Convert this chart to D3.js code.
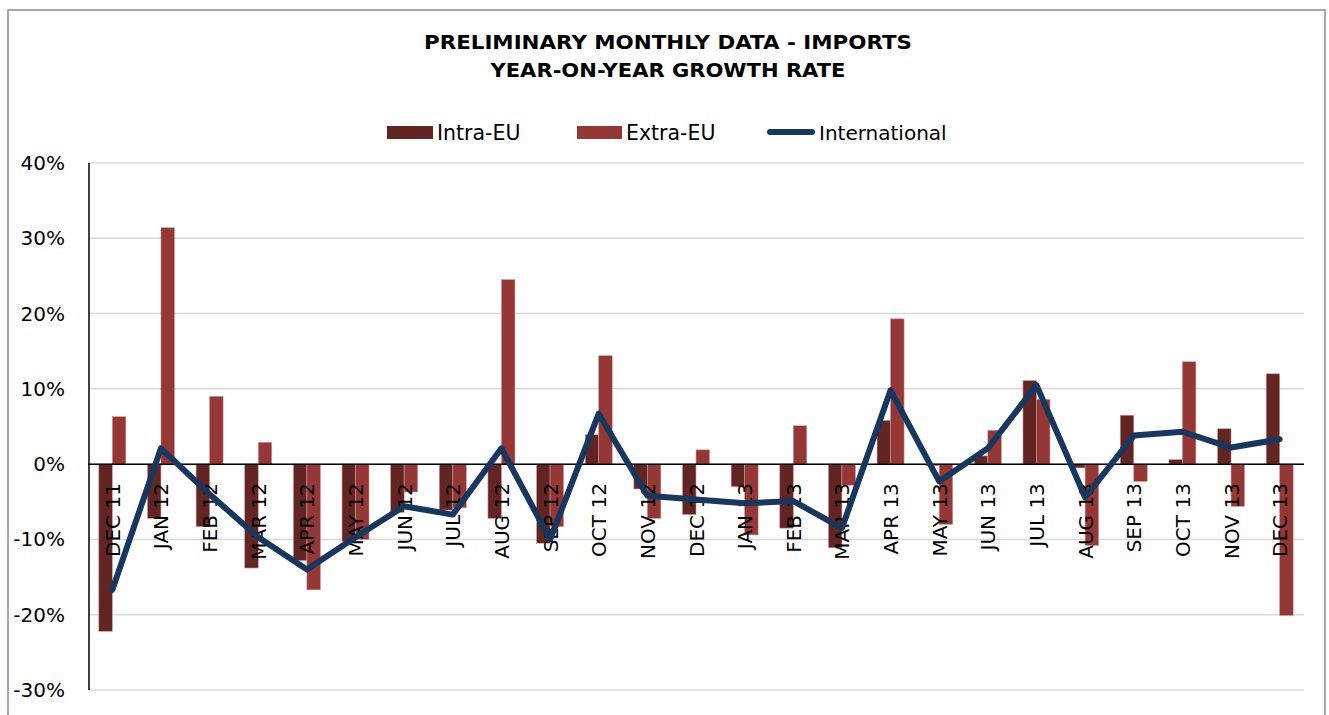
<!DOCTYPE html>
<html>
<head>
<meta charset="utf-8">
<script src="https://cdn.jsdelivr.net/npm/d3@7"></script>
<style>
  body { margin: 0; background: #fff; }
  svg { display: block; }
  text { font-family: "DejaVu Sans", sans-serif; fill: #000; }
</style>
</head>
<body>
<svg id="chart" width="1329" height="715"></svg>
<script>
// months on the x axis
var months = ["DEC 11", "JAN 12", "FEB 12", "MAR 12", "APR 12", "MAY 12", "JUN 12", "JUL 12", "AUG 12",
              "SEP 12", "OCT 12", "NOV 12", "DEC 12", "JAN 13", "FEB 13", "MAR 13", "APR 13",
              "MAY 13", "JUN 13", "JUL 13", "AUG 13", "SEP 13", "OCT 13", "NOV 13", "DEC 13"];
// growth rates in %
var intraEU = [-22.2, -7.2, -8.3, -13.8, -12.8, -10.3, -6.4, -6.1, -7.2,
               -10.5, 3.9, -3.3, -6.7, -3.0, -8.5, -11.1, 5.8,
               -0.2, 1.1, 11.1, -0.5, 6.5, 0.6, 4.7, 12.0];
var extraEU = [6.3, 31.4, 9.0, 2.9, -16.7, -10.0, -3.7, -5.8, 24.5,
               -8.3, 14.4, -7.2, 1.9, -9.4, 5.1, -2.8, 19.3,
               -8.0, 4.5, 8.6, -10.8, -2.3, 13.6, -5.6, -20.1];
var international = [-16.7, 2.1, -4.0, -9.7, -14.0, -9.7, -5.6, -6.7, 2.1,
                     -10.0, 6.7, -4.2, -4.7, -5.2, -4.9, -8.5, 9.8,
                     -2.3, 2.1, 10.5, -4.4, 3.8, 4.3, 2.2, 3.3];
var yTicks = [40, 30, 20, 10, 0, -10, -20, -30];

var colIntra = "#632523", colExtra = "#953735", colLine = "#17375e";

var svg = d3.select("#chart");

// outer frame
svg.append("rect")
  .attr("x", 8).attr("y", 10)
  .attr("width", 1317).attr("height", 720)
  .attr("fill", "none")
  .attr("stroke", "#8c8c8c")
  .attr("stroke-width", 1.5);

var pLeft = 88, pRight = 1304, pTop = 163, pBottom = 690;

var x = d3.scaleBand().domain(months).range([pLeft, pRight]).paddingInner(0).paddingOuter(0);
var y = d3.scaleLinear().domain([-30, 40]).range([pBottom, pTop]);
var bw = 13.5;

// gridlines
svg.append("g").selectAll("line").data(yTicks).join("line")
  .attr("x1", pLeft).attr("x2", pRight)
  .attr("y1", d => y(d)).attr("y2", d => y(d))
  .attr("stroke", "#d9d9d9").attr("stroke-width", 1.5);

// y labels
svg.append("g").selectAll("text").data(yTicks).join("text")
  .attr("x", 65).attr("y", d => y(d) + 7)
  .attr("text-anchor", "end")
  .style("font-size", "20px")
  .text(d => d + "%");

// bars
function bars(vals, col, off){
  svg.append("g").selectAll("rect").data(vals).join("rect")
    .attr("x", (d, i) => x(months[i]) + x.bandwidth() / 2 + off)
    .attr("y", d => y(Math.max(0, d)))
    .attr("width", bw)
    .attr("height", d => Math.abs(y(d) - y(0)))
    .attr("fill", col)
    .attr("stroke", "#c49a98").attr("stroke-width", 0.6);
}
bars(intraEU, colIntra, -bw);
bars(extraEU, colExtra, 0);

// axes lines
svg.append("line").attr("x1", pLeft + 1).attr("x2", pLeft + 1).attr("y1", pTop).attr("y2", pBottom)
  .attr("stroke", "#000").attr("stroke-width", 1.5);
svg.append("line").attr("x1", pLeft).attr("x2", pRight).attr("y1", y(0)).attr("y2", y(0))
  .attr("stroke", "#000").attr("stroke-width", 1.5);

// category labels, rotated
svg.append("g").selectAll("text").data(months).join("text")
  .attr("transform", d => "translate(" + (x(d) + x.bandwidth() / 2 + 7.5) + "," + (y(0) + 19) + ") rotate(-90)")
  .attr("text-anchor", "end")
  .style("font-size", "20px")
  .text(d => d);

// international line
var line = d3.line()
  .x((d, i) => x(months[i]) + x.bandwidth() / 2)
  .y(d => y(d));
svg.append("path").datum(international)
  .attr("d", line)
  .attr("fill", "none")
  .attr("stroke", colLine)
  .attr("stroke-width", 6)
  .attr("stroke-linejoin", "round")
  .attr("stroke-linecap", "round");

// title
svg.append("text").attr("x", 668).attr("y", 49).attr("text-anchor", "middle")
  .style("font-size", "19px").style("font-weight", "bold")
  .attr("textLength", 488).attr("lengthAdjust", "spacingAndGlyphs")
  .text("PRELIMINARY MONTHLY DATA - IMPORTS");
svg.append("text").attr("x", 668).attr("y", 77).attr("text-anchor", "middle")
  .style("font-size", "19px").style("font-weight", "bold")
  .attr("textLength", 355).attr("lengthAdjust", "spacingAndGlyphs")
  .text("YEAR-ON-YEAR GROWTH RATE");

// legend
var lg = svg.append("g");
lg.append("rect").attr("x", 387).attr("y", 126).attr("width", 46).attr("height", 13).attr("fill", colIntra);
lg.append("text").attr("x", 437).attr("y", 140).style("font-size", "20.5px").text("Intra-EU");
lg.append("rect").attr("x", 577).attr("y", 126).attr("width", 45).attr("height", 13).attr("fill", colExtra);
lg.append("text").attr("x", 626).attr("y", 140).style("font-size", "20.5px").text("Extra-EU");
lg.append("line").attr("x1", 770).attr("x2", 812).attr("y1", 132).attr("y2", 132)
  .attr("stroke", colLine).attr("stroke-width", 6).attr("stroke-linecap", "round");
lg.append("text").attr("x", 819).attr("y", 140).style("font-size", "20px").text("International");
</script>
</body>
</html>
